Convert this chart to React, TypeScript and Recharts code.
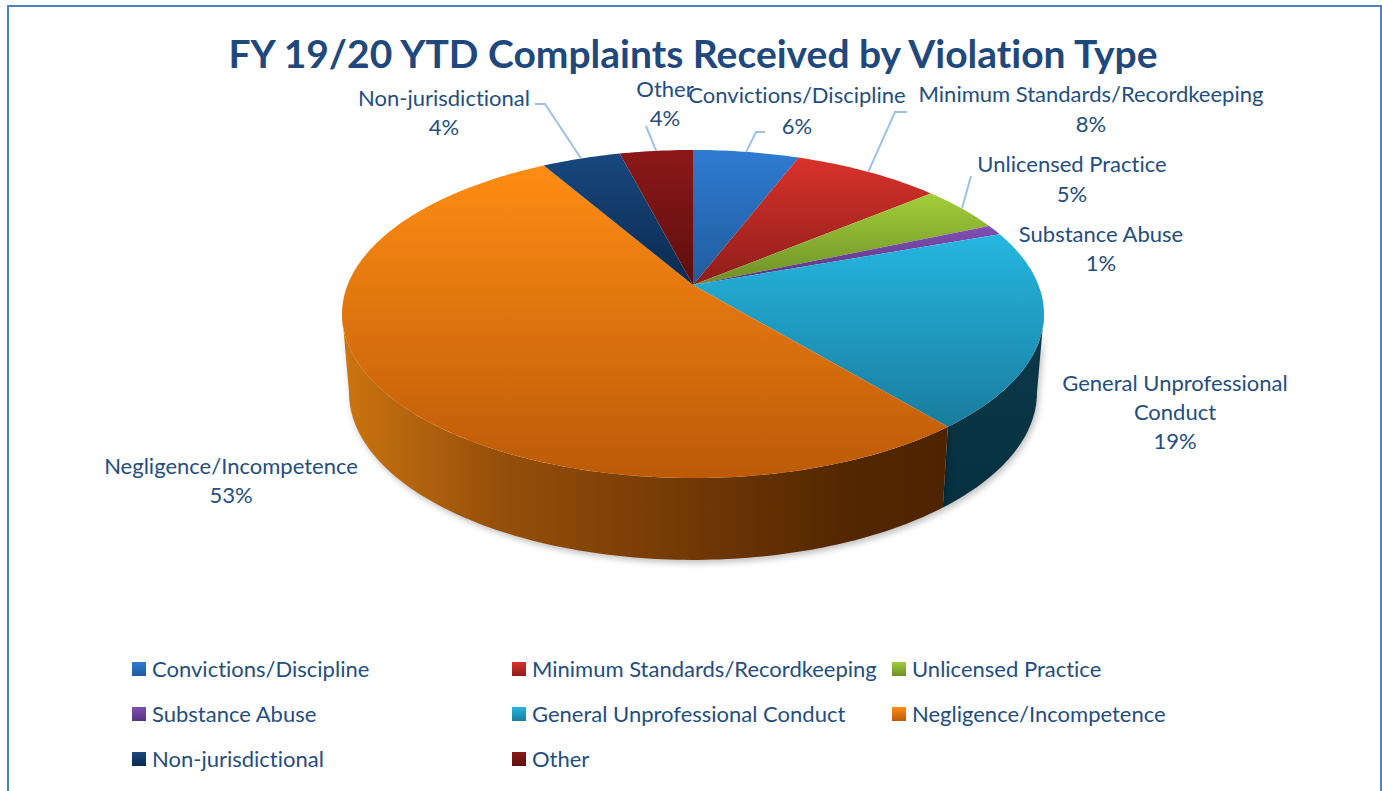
import React from "react";
import { PieChart, Pie, Legend } from "recharts";

const categories = [
  "Convictions/Discipline",
  "Minimum Standards/Recordkeeping",
  "Unlicensed Practice",
  "Substance Abuse",
  "General Unprofessional Conduct",
  "Negligence/Incompetence",
  "Non-jurisdictional",
  "Other",
];
const percents = [5.8, 8.1, 4.6, 1.0, 19.5, 52.7, 4.3, 4.0];

const topColors = ["#2F7AD2", "#D9322B", "#A3CE3A", "#8150B3", "#25B7E0", "#FF8D14", "#18487F", "#8C1818"];
const bottomColors = ["#1F5C9C", "#8E1D1A", "#6C8F27", "#57327F", "#197C9E", "#BC5A08", "#0B2A50", "#5E0E0E"];

// label placement: centre x, line centres y, and the elbow of the leader line
const labelLayout = [
  { x: 797, y: [94, 125], line: [[765, 132], [756, 132]], lines: ["Convictions/Discipline", "6%"] },
  { x: 1091, y: [93, 123], line: [[907, 112], [895, 112]], lines: ["Minimum Standards/Recordkeeping", "8%"] },
  { x: 1072, y: [163, 193], line: [[971, 176]], lines: ["Unlicensed Practice", "5%"] },
  { x: 1101, y: [233, 262], line: [], lines: ["Substance Abuse", "1%"] },
  { x: 1175, y: [382, 411, 440], line: [], lines: ["General Unprofessional", "Conduct", "19%"] },
  { x: 231, y: [465, 494], line: [], lines: ["Negligence/Incompetence", "53%"] },
  { x: 444, y: [97, 126], line: [[535, 104], [545, 104]], lines: ["Non-jurisdictional", "4%"] },
  { x: 665, y: [88, 117], line: [[646, 126]], lines: ["Other", "4%"] },
];

const chartData = categories.map((name, i) => ({
  name,
  value: percents[i],
  fill: `url(#top${i})`,
}));

const FONT = "Lato, 'Open Sans', sans-serif";
const TEXT = "#234E80";
const LABEL_SIZE = 22;
const CX = 693;
const CY = 285;
const RADIUS = 350;

// perspective tilt: the circle is seen from above and in front
const TILT = 0.1768;
const SCALE_X = 0.987;
const SCALE_Y = 0.454;
const DEPTH = 78;

function project(cx: number, cy: number, r: number, angle: number, sx = 1, sy = 1, dy = 0) {
  const t = ((90 - angle) * Math.PI) / 180;
  const u = Math.sin(t);
  const v = -Math.cos(t);
  const d = 1 - TILT * v;
  return [cx + (sx * r * SCALE_X * u) / d, cy + dy + (sy * r * SCALE_Y * v) / d];
}

function arc(cx: number, cy: number, r: number, from: number, to: number, sx = 1, sy = 1, dy = 0) {
  const steps = Math.max(2, Math.ceil(Math.abs(to - from)));
  const pts: number[][] = [];
  for (let i = 0; i <= steps; i++) {
    pts.push(project(cx, cy, r, from + ((to - from) * i) / steps, sx, sy, dy));
  }
  return pts;
}

const toPath = (pts: number[][]) => pts.map((p, i) => `${i ? "L" : "M"}${p[0].toFixed(1)},${p[1].toFixed(1)}`).join(" ");

function Slice3D(props: any) {
  const { cx, cy, outerRadius, startAngle, endAngle, fill, index } = props;
  // only the part facing the viewer gets a wall, clockwise angle 100..260
  const wallFrom = Math.min(startAngle, -10);
  const wallTo = Math.max(endAngle, -170);
  const hasWall = wallFrom > wallTo;
  const top = arc(cx, cy, outerRadius, startAngle, endAngle);
  return (
    <g>
      {hasWall && (
        <path
          d={
            toPath([
              ...arc(cx, cy, outerRadius, wallFrom, wallTo),
              ...arc(cx, cy, outerRadius, wallTo, wallFrom, 0.98, 1.02, DEPTH),
            ]) + " Z"
          }
          fill={index === 4 ? "url(#wallTeal)" : "url(#wallOrange)"}
          style={{ filter: "drop-shadow(2px 3px 3px rgba(0,0,0,0.25))" }}
        />
      )}
      <path d={toPath([[cx, cy], ...top]) + " Z"} fill={fill} />
    </g>
  );
}

function SliceLabel(props: any) {
  const { index } = props;
  const l = labelLayout[index];
  return (
    <text textAnchor="middle" fontFamily={FONT} fontSize={LABEL_SIZE} fill={TEXT} style={{ fontVariantLigatures: "none" }}>
      {l.lines.map((t, i) => (
        <tspan key={i} x={l.x} y={l.y[i]} dominantBaseline="central">
          {t}
        </tspan>
      ))}
    </text>
  );
}

function SliceLine(props: any) {
  const { index, cx, cy, outerRadius, midAngle } = props;
  const l = labelLayout[index];
  if (!l.line.length) return <g />;
  const end = project(cx, cy, outerRadius, midAngle);
  return <path d={toPath([...l.line, end])} fill="none" stroke="#9CC2E8" strokeWidth={2} />;
}

function LegendGrid(props: any) {
  const { payload } = props;
  return (
    <div style={{ display: "grid", gridTemplateColumns: "380px 380px 380px", gridAutoRows: "45px" }}>
      {(payload || []).map((entry: any, i: number) => (
        <div key={entry.value} style={{ display: "flex", alignItems: "center", height: 14, marginTop: 13 }}>
          <span
            style={{
              width: 14,
              height: 14,
              marginRight: 6,
              background: `linear-gradient(${topColors[i]}, ${bottomColors[i]})`,
            }}
          />
          <span
            style={{
              fontFamily: FONT,
              fontSize: LABEL_SIZE,
              color: TEXT,
              whiteSpace: "nowrap",
              fontVariantLigatures: "none",
              position: "relative",
              top: -1,
            }}
          >
            {entry.value}
          </span>
        </div>
      ))}
    </div>
  );
}

export default function App() {
  return (
    <div style={{ position: "fixed", left: 0, top: 0, width: 1382, height: 791, overflow: "hidden", background: "#fff" }}>
      <div
        style={{
          position: "absolute",
          left: 7,
          top: 5,
          width: 1371,
          height: 900,
          border: "2px solid #4F81BD",
        }}
      />
      <PieChart width={1382} height={791} margin={{ top: 0, right: 0, bottom: 0, left: 0 }}>
        <defs>
          {categories.map((_, i) => (
            <linearGradient key={i} id={`top${i}`} x1="0" y1="0" x2="0" y2="1">
              <stop offset="0%" stopColor={topColors[i]} />
              <stop offset="100%" stopColor={bottomColors[i]} />
            </linearGradient>
          ))}
          <linearGradient id="wallOrange" x1="0" y1="0" x2="1" y2="0">
            <stop offset="0%" stopColor="#CC7510" />
            <stop offset="25%" stopColor="#97500A" />
            <stop offset="55%" stopColor="#753A06" />
            <stop offset="85%" stopColor="#512600" />
            <stop offset="100%" stopColor="#4E2400" />
          </linearGradient>
          <linearGradient id="wallTeal" x1="0" y1="0" x2="0" y2="1">
            <stop offset="0%" stopColor="#0C3A4A" />
            <stop offset="100%" stopColor="#06303F" />
          </linearGradient>
        </defs>
        <text
          x={693}
          y={53}
          textAnchor="middle"
          dominantBaseline="central"
          fontFamily={FONT}
          fontWeight={700}
          fontSize={39}
          fill="#1F497D"
          style={{ fontVariantLigatures: "none" }}
        >
          FY 19/20 YTD Complaints Received by Violation Type
        </text>
        <Pie
          data={chartData}
          dataKey="value"
          nameKey="name"
          cx={CX}
          cy={CY}
          innerRadius={0}
          outerRadius={RADIUS}
          startAngle={90}
          endAngle={-270}
          stroke="none"
          isAnimationActive={false}
          shape={Slice3D}
          label={SliceLabel}
          labelLine={SliceLine}
        />
        <Legend
          content={LegendGrid}
          itemSorter={null}
          wrapperStyle={{ position: "absolute", left: 132, top: 649, bottom: "auto", width: 1140, height: 135 }}
        />
      </PieChart>
    </div>
  );
}
